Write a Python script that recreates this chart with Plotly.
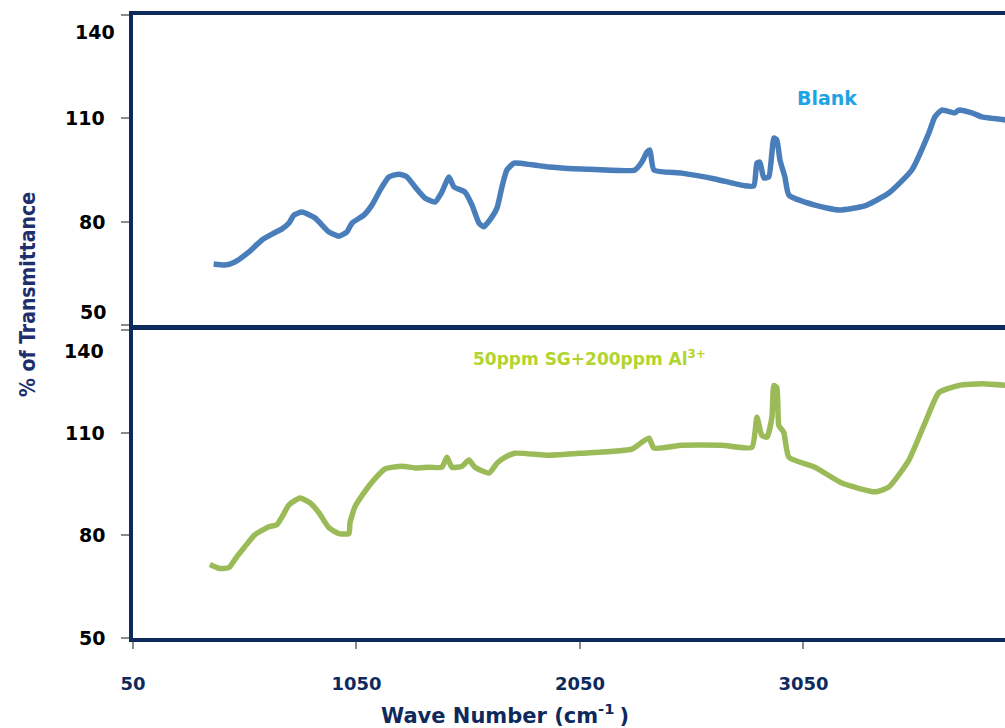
import plotly.graph_objects as go

# ---- data ----
blank_wn = [411, 462, 506, 569, 627, 672, 717, 748, 770, 806, 864, 927, 972, 1007, 1030,
            1083, 1119, 1164, 1195, 1240, 1276, 1312, 1356, 1401, 1432, 1464, 1486, 1535,
            1567, 1598, 1620, 1647, 1679, 1701, 1723, 1755, 1835, 1911, 2059, 2296, 2327,
            2350, 2363, 2381, 2506, 2654, 2788, 2828, 2842, 2855, 2873, 2895, 2918, 2931,
            2945, 2967, 2985, 3101, 3209, 3325, 3432, 3535, 3611, 3638, 3669, 3728, 3745,
            3804, 3849, 3960]
blank_t = [67.7, 67.4, 68.3, 71.2, 74.7, 76.4, 77.9, 79.6, 81.9, 82.8, 81.1, 77.0, 75.8, 77.0,
           79.6, 81.9, 84.8, 90.1, 93.0, 93.8, 93.0, 90.1, 86.9, 85.7, 88.6, 93.0, 90.1, 88.6,
           84.8, 79.6, 78.5, 80.5, 84.0, 90.1, 95.0, 97.0, 96.5, 95.9, 95.3, 95.0, 97.3, 100.2,
           100.8, 95.0, 94.1, 92.4, 90.4, 90.4, 97.0, 97.3, 92.7, 93.0, 104.3, 103.7, 97.9,
           93.0, 87.7, 84.8, 83.4, 84.6, 88.3, 95.0, 105.7, 110.4, 112.4, 111.6, 112.4, 111.6,
           110.4, 109.5]

sg_wn = [394, 439, 480, 515, 547, 596, 658, 694, 717, 748, 797, 842, 882, 927, 972, 1016,
         1021, 1043, 1083, 1128, 1177, 1253, 1312, 1374, 1432, 1455, 1477, 1522, 1553, 1580,
         1643, 1679, 1714, 1759, 1911, 2059, 2283, 2327, 2359, 2381, 2506, 2685, 2819, 2842,
         2864, 2887, 2909, 2918, 2931, 2940, 2962, 2985, 3101, 3222, 3370, 3432, 3522, 3593,
         3656, 3746, 3849, 3960]
sg_t = [71.5, 70.3, 70.6, 73.8, 76.4, 80.2, 82.5, 83.1, 85.4, 88.9, 90.9, 89.5, 86.6, 82.2,
        80.5, 80.5, 83.7, 88.3, 92.4, 96.2, 99.4, 100.2, 99.7, 99.9, 99.9, 102.8, 99.9, 100.2,
        102.0, 99.9, 98.2, 101.1, 102.8, 104.0, 103.4, 104.0, 105.2, 107.2, 108.4, 105.5,
        106.3, 106.3, 105.7, 114.5, 109.2, 108.7, 114.5, 123.8, 123.2, 112.1, 110.1, 102.8,
        99.9, 95.3, 92.7, 94.1, 102.0, 112.7, 121.7, 123.8, 124.3, 123.8]

x_ticks = [50, 1050, 2050, 3050]
y_ticks = [50, 80, 110, 140]
x_range = [50, 3952]
y_range = [50, 140]

label_blank = "Blank"
label_sg = "50ppm SG+200ppm Al<sup>3+</sup>"

W, H = 1005, 728
NAVY = "#0e2a5c"
LINE_BLUE = "#4a7ebb"
LINE_GREEN = "#9bbb59"
TICKFONT = dict(family="DejaVu Sans, Liberation Sans, Arial", size=19, color="black", weight="bold")

fig = go.Figure()
fig.add_trace(go.Scatter(x=blank_wn, y=blank_t, mode="lines",
                         line=dict(color=LINE_BLUE, width=5.5, shape="spline", smoothing=0.5),
                         xaxis="x", yaxis="y", showlegend=False, hoverinfo="skip"))
fig.add_trace(go.Scatter(x=sg_wn, y=sg_t, mode="lines",
                         line=dict(color=LINE_GREEN, width=5.5, shape="spline", smoothing=0.5),
                         xaxis="x2", yaxis="y2", showlegend=False, hoverinfo="skip"))

xd = [133 / W, 1.0]
top_dom = [1 - 325 / H, 1 - 15 / H]
bot_dom = [1 - 638 / H, 1 - 330 / H]

axis_common = dict(showline=True, linecolor=NAVY, linewidth=4, showgrid=False,
                   zeroline=False, automargin=False)

fig.update_layout(
    width=W, height=H,
    margin=dict(l=0, r=0, t=0, b=0),
    template="none",
    paper_bgcolor="white", plot_bgcolor="white",
    xaxis=dict(domain=xd, range=x_range, anchor="y", mirror=True, showticklabels=False,
               ticks="", **axis_common),
    yaxis=dict(domain=top_dom, range=y_range, anchor="x", tickvals=y_ticks,
               showticklabels=False, ticks="outside", ticklen=8, tickcolor="#8c8c8c",
               tickwidth=1.5, **axis_common),
    xaxis2=dict(domain=xd, range=x_range, anchor="y2", mirror=True, tickvals=x_ticks,
                ticks="outside", ticklen=7, tickcolor="#8c8c8c", tickwidth=1.5,
                ticklabelstandoff=19,
                tickfont=dict(family="DejaVu Sans, Liberation Sans, Arial", size=18,
                              color=NAVY, weight="bold"),
                **axis_common),
    yaxis2=dict(domain=bot_dom, range=y_range, anchor="x2", tickvals=y_ticks,
                showticklabels=False, ticks="outside", ticklen=8, tickcolor="#8c8c8c",
                tickwidth=1.5, **axis_common),
)

annotations = []
# y tick labels (Excel-style placement, end labels nudged inside)
top_shift = {140: -17, 110: 0, 80: 0, 50: 13}
top_x = {140: 117, 110: 107, 80: 107, 50: 108}
bot_shift = {140: -21, 110: 0, 80: 0, 50: 0}
bot_x = {140: 106, 110: 107, 80: 107, 50: 107}
for v in y_ticks:
    annotations.append(dict(text=str(v), xref="paper", x=top_x[v] / W, xanchor="right",
                            yref="y", y=v, yanchor="middle", yshift=top_shift[v],
                            showarrow=False, font=TICKFONT))
    annotations.append(dict(text=str(v), xref="paper", x=bot_x[v] / W, xanchor="right",
                            yref="y2", y=v, yanchor="middle", yshift=bot_shift[v],
                            showarrow=False, font=TICKFONT))

annotations.append(dict(text=label_blank, xref="paper", yref="paper", x=827 / W, y=1 - 98 / H,
                        xanchor="center", yanchor="middle", showarrow=False,
                        font=dict(family="DejaVu Sans, Liberation Sans", size=19,
                                  color="#1ea3e6", weight="bold")))
annotations.append(dict(text=label_sg, xref="paper", yref="paper", x=589 / W, y=1 - 358 / H,
                        xanchor="center", yanchor="middle", showarrow=False,
                        font=dict(family="DejaVu Sans, Liberation Sans", size=17,
                                  color="#b2d42e", weight="bold")))
annotations.append(dict(text="% of Transmittance", xref="paper", yref="paper",
                        x=28 / W, y=1 - 295 / H, xanchor="center", yanchor="middle",
                        textangle=-90, showarrow=False,
                        font=dict(family="Liberation Sans Narrow, DejaVu Sans Condensed, Arial Narrow, sans-serif",
                                  size=21, color="#1f2f6e", weight="bold")))
annotations.append(dict(text="Wave Number (cm<sup>-1 </sup>)", xref="paper", yref="paper",
                        x=505 / W, y=1 - 714 / H, xanchor="center", yanchor="middle",
                        showarrow=False,
                        font=dict(family="DejaVu Sans, Liberation Sans", size=21,
                                  color=NAVY, weight="bold")))
fig.update_layout(annotations=annotations)

fig.write_html("out.html", config={"displayModeBar": False},
               post_script="document.body.style.margin='0px';")
